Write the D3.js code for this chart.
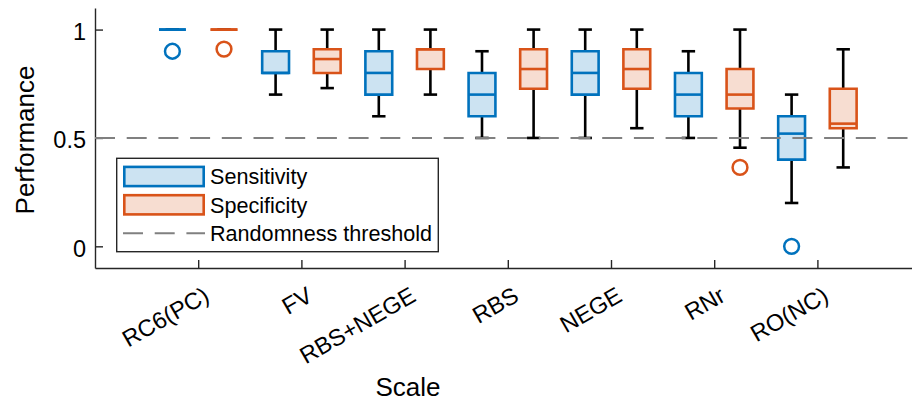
<!DOCTYPE html>
<html>
<head>
<meta charset="utf-8">
<script src="https://cdn.jsdelivr.net/npm/d3@7"></script>
<style>
  body { margin: 0; background: #fff; }
  text { font-family: "Liberation Sans", Arial, Helvetica, sans-serif; }
</style>
</head>
<body>
<div id="chart"></div>
<script>
// scales that were tested
var categories = ["RC6(PC)", "FV", "RBS+NEGE", "RBS", "NEGE", "RNr", "RO(NC)"];

// sensitivity boxes: lower whisker, q1, median, q3, upper whisker
var sensLow = [1.0, 0.7, 0.6, 0.5, 0.5, 0.5, 0.2];
var sensQ1 = [1.0, 0.8, 0.7, 0.6, 0.7, 0.6, 0.4];
var sensMedian = [1.0, 0.8, 0.8, 0.7, 0.8, 0.7, 0.52];
var sensQ3 = [1.0, 0.9, 0.9, 0.8, 0.9, 0.8, 0.6];
var sensHigh = [1.0, 1.0, 1.0, 0.9, 1.0, 0.9, 0.7];
var sensOutliers = [[0.9], [], [], [], [], [], [0]];

// specificity boxes
var specLow = [1.0, 0.73, 0.7, 0.5, 0.545, 0.455, 0.364];
var specQ1 = [1.0, 0.8, 0.818, 0.727, 0.727, 0.636, 0.545];
var specMedian = [1.0, 0.864, 0.909, 0.818, 0.818, 0.7, 0.566];
var specQ3 = [1.0, 0.909, 0.909, 0.909, 0.909, 0.818, 0.727];
var specHigh = [1.0, 1.0, 1.0, 1.0, 1.0, 1.0, 0.909];
var specOutliers = [[0.91], [], [], [], [], [0.364], []];

var yTicks = [0, 0.5, 1];
var threshold = 0.5;

// chart dimensions
var width = 912;
var height = 401;

var series = [
  { name: "Sensitivity", color: "#0072BD", fill: "#cce3f2", offset: -0.25,
    low: sensLow, q1: sensQ1, med: sensMedian, q3: sensQ3, high: sensHigh, out: sensOutliers },
  { name: "Specificity", color: "#D95319", fill: "#f7ddd1", offset: 0.25,
    low: specLow, q1: specQ1, med: specMedian, q3: specQ3, high: specHigh, out: specOutliers }
];

var svg = d3.select('#chart')
  .append('svg')
  .attr('width', width)
  .attr('height', height);

var x = d3.scaleLinear()
  .domain([0, categories.length + 1])
  .range([95, 920.6]);

var y = d3.scaleLinear()
  .domain([-0.1, 1.1])
  .range([268, 7.9]);

var boxW = x(0.26) - x(0); // box width in px
var capW = boxW / 2;       // whisker cap width

var axisColor = "#262626";

// x axis, ticks point inward
var xAxis = svg.append('g')
  .attr('transform', 'translate(0,' + y.range()[0] + ')')
  .call(d3.axisBottom(x)
    .tickValues(categories.map(function(d, i) { return i + 1; }))
    .tickSize(-8)
    .tickSizeOuter(0)
    .tickFormat(function(d) { return categories[d - 1]; }));

xAxis.selectAll('text')
  .attr('y', 0)
  .attr('x', 0)
  .attr('dy', '0.35em')
  .attr('text-anchor', 'end')
  .attr('transform', 'translate(8,25) rotate(-30)')
  .style('font-size', '23.5px')
  .style('fill', '#000');

// y axis
var yAxis = svg.append('g')
  .attr('transform', 'translate(' + x.range()[0] + ',0)')
  .call(d3.axisLeft(y)
    .tickValues(yTicks)
    .tickSize(-8)
    .tickSizeOuter(0)
    .tickPadding(9)
    .tickFormat(d3.format('')));

yAxis.selectAll('text')
  .attr('dy', '0.42em')
  .style('font-size', '23.5px')
  .style('fill', '#000');

svg.selectAll('.domain, .tick line')
  .attr('stroke', axisColor)
  .attr('stroke-width', 1.4);

// boxes
series.forEach(function(s) {
  var g = svg.selectAll('.box-' + s.name)
    .data(categories)
    .enter()
    .append('g')
    .attr('class', 'box-' + s.name)
    .attr('transform', function(d, i) { return 'translate(' + x(i + 1 + s.offset) + ',0)'; });

  // whisker line
  g.append('line')
    .attr('x1', 0).attr('x2', 0)
    .attr('y1', function(d, i) { return y(s.low[i]); })
    .attr('y2', function(d, i) { return y(s.high[i]); })
    .attr('stroke', '#000')
    .attr('stroke-width', 2.6);

  // caps
  ['low', 'high'].forEach(function(k) {
    g.append('line')
      .attr('x1', -capW / 2).attr('x2', capW / 2)
      .attr('y1', function(d, i) { return y(s[k][i]); })
      .attr('y2', function(d, i) { return y(s[k][i]); })
      .attr('stroke', '#000')
      .attr('stroke-width', 2.6);
  });

  // box (path so a zero-height box still shows as a line)
  g.append('path')
    .attr('d', function(d, i) {
      var t = y(s.q3[i]), b = y(s.q1[i]);
      return 'M' + (-boxW / 2) + ',' + t + 'H' + (boxW / 2) + 'V' + b + 'H' + (-boxW / 2) + 'Z';
    })
    .attr('fill', s.fill)
    .attr('stroke', s.color)
    .attr('stroke-width', 2.6);

  // median
  g.append('line')
    .attr('x1', -boxW / 2).attr('x2', boxW / 2)
    .attr('y1', function(d, i) { return y(s.med[i]); })
    .attr('y2', function(d, i) { return y(s.med[i]); })
    .attr('stroke', s.color)
    .attr('stroke-width', 2.6);

  // outliers
  g.selectAll('circle')
    .data(function(d, i) { return s.out[i]; })
    .enter()
    .append('circle')
    .attr('cx', 0)
    .attr('cy', function(v) { return y(v); })
    .attr('r', 7.4)
    .attr('fill', 'none')
    .attr('stroke', s.color)
    .attr('stroke-width', 2.5);
});

// randomness threshold
svg.append('line')
  .attr('x1', x.range()[0]).attr('x2', width)
  .attr('y1', y(threshold)).attr('y2', y(threshold))
  .attr('stroke', '#808080')
  .attr('stroke-width', 2)
  .attr('stroke-dasharray', '20,11.7');

// legend
var legend = svg.append('g');
legend.append('rect')
  .attr('x', 116.7).attr('y', 158.3)
  .attr('width', 321.6).attr('height', 93.4)
  .attr('fill', '#fff')
  .attr('stroke', axisColor)
  .attr('stroke-width', 1.4);

var rowY = [176.5, 204.8, 233.3];
series.forEach(function(s, i) {
  legend.append('rect')
    .attr('x', 124.3).attr('y', rowY[i] - 9.6)
    .attr('width', 79.4).attr('height', 19.2)
    .attr('fill', s.fill)
    .attr('stroke', s.color)
    .attr('stroke-width', 2.6);
  legend.append('text')
    .attr('x', 210).attr('y', rowY[i])
    .attr('dy', '0.36em')
    .style('font-size', '21.6px')
    .text(s.name);
});
legend.append('line')
  .attr('x1', 123).attr('x2', 205)
  .attr('y1', rowY[2]).attr('y2', rowY[2])
  .attr('stroke', '#808080')
  .attr('stroke-width', 2)
  .attr('stroke-dasharray', '20,11.7');
legend.append('text')
  .attr('x', 210).attr('y', rowY[2])
  .attr('dy', '0.36em')
  .style('font-size', '21.6px')
  .text('Randomness threshold');

// axis labels
svg.append('text')
  .attr('transform', 'translate(34,140) rotate(-90)')
  .attr('text-anchor', 'middle')
  .style('font-size', '26px')
  .text('Performance');

svg.append('text')
  .attr('x', 408).attr('y', 396)
  .attr('text-anchor', 'middle')
  .style('font-size', '26px')
  .text('Scale');
</script>
</body>
</html>
